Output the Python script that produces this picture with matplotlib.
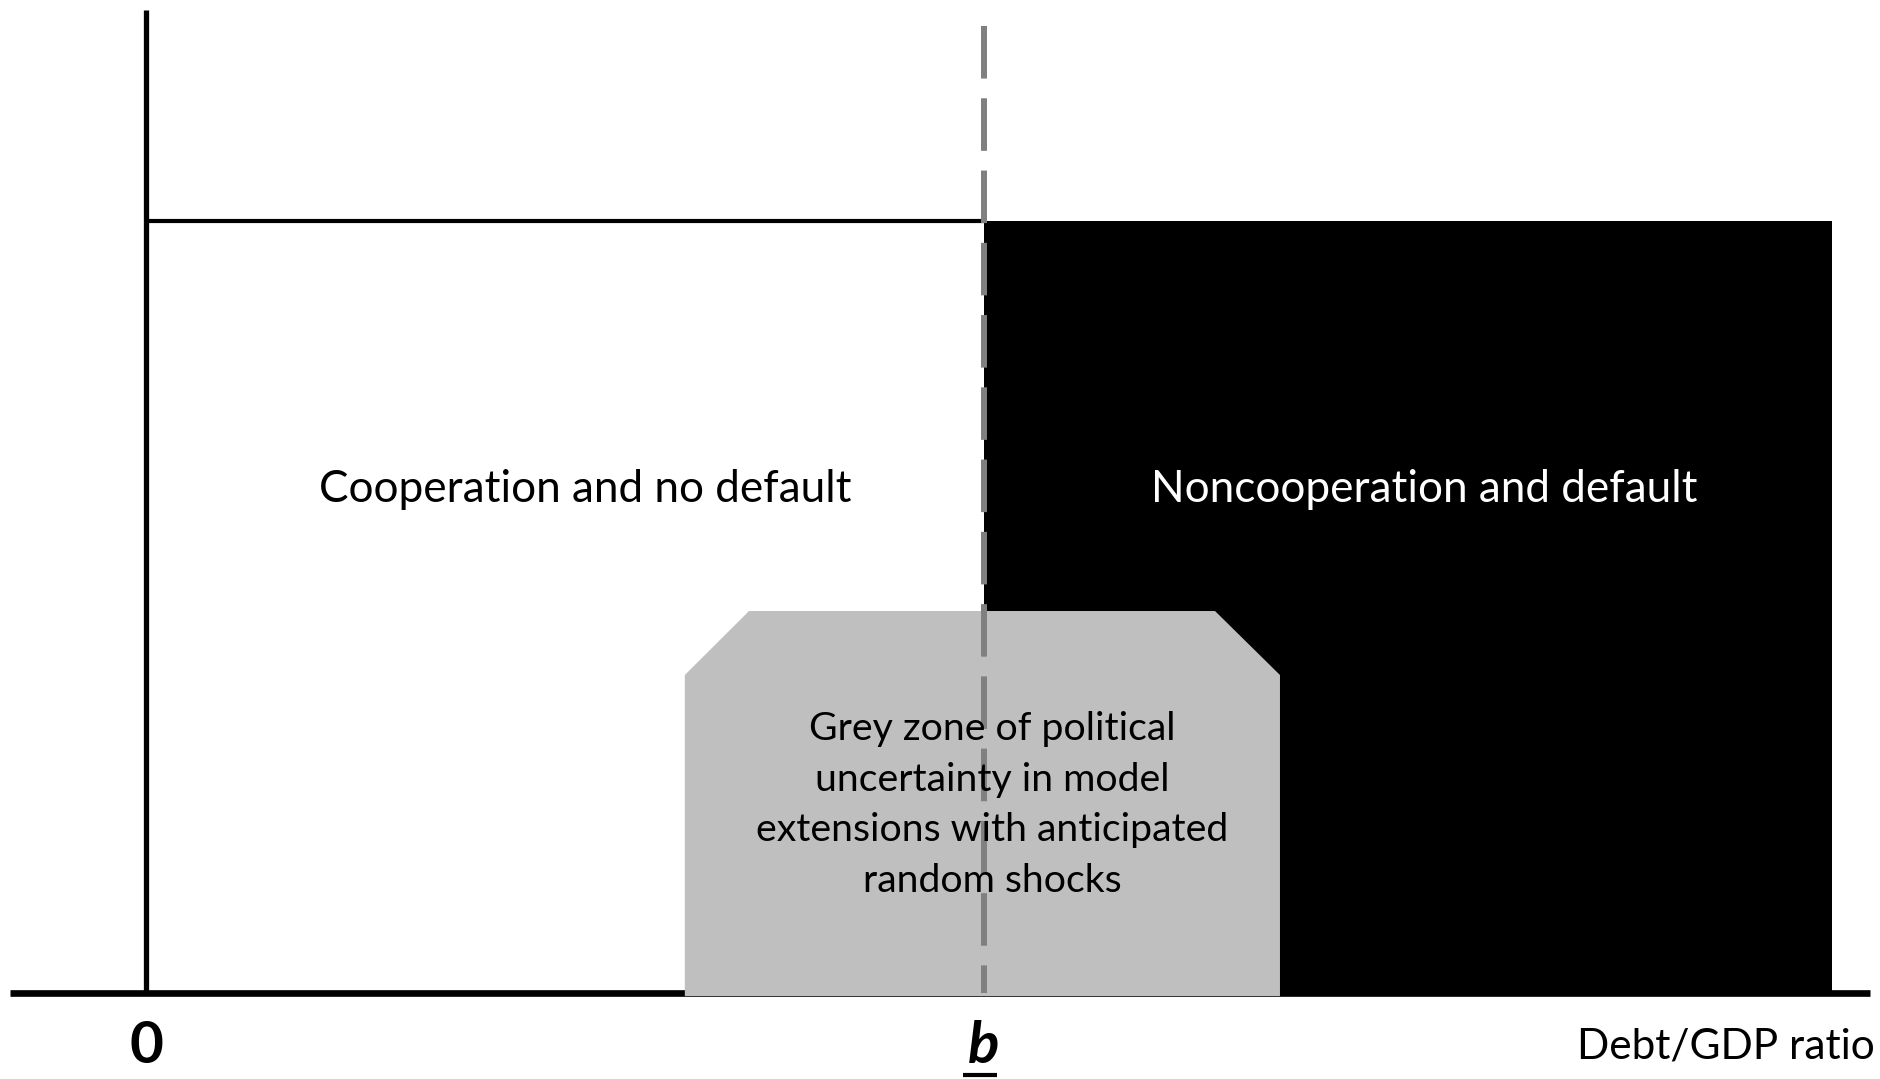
import matplotlib.pyplot as plt
from matplotlib.patches import Polygon, Rectangle

# === Schematic values (x: debt/GDP with threshold b = 1, y: outcome level) ===
b_threshold = 1.0
x_limits = (-0.1742, 2.0704)
y_limits = (-0.1114, 1.2863)
x_axis_span = (-0.1623, 2.0573)
y_axis_top = 1.273
regime_level = 1.0
default_right = 2.012
dash_top = 1.2526

# grey zone outline (x, y)
grey_x = [0.643, 0.643, 0.7196, 1.2757, 1.3532, 1.3532]
grey_y = [-0.004, 0.4119, 0.4948, 0.4948, 0.4119, -0.004]

label_coop = 'Cooperation and no default'
label_noncoop = 'Noncooperation and default'
label_grey = 'Grey zone of political\nuncertainty in model\nextensions with anticipated\nrandom shocks'
label_xaxis = 'Debt/GDP ratio'

coop_pos = (0.524, 0.652)
noncoop_pos = (1.525, 0.652)
grey_pos = (1.0095, 0.2435)
tick_y = -0.069

plt.rcParams['font.family'] = ['Lato', 'DejaVu Sans']

fig = plt.figure(figsize=(18.81, 10.79), dpi=100)
ax = fig.add_axes([0, 0, 1, 1])
ax.set_xlim(*x_limits)
ax.set_ylim(*y_limits)
ax.axis('off')

# axes
ax.plot(x_axis_span, [0, 0], color='black', lw=4.8, solid_capstyle='butt', zorder=1)
ax.plot([0, 0], [0, y_axis_top], color='black', lw=3.8, solid_capstyle='butt', zorder=1)

# cooperation region top and default region
ax.plot([0, b_threshold], [regime_level, regime_level], color='black', lw=3.0,
        solid_capstyle='butt', zorder=2)
ax.add_patch(Rectangle((b_threshold, 0), default_right - b_threshold, regime_level,
                       facecolor='black', edgecolor='none', zorder=2))

# grey zone
ax.add_patch(Polygon(list(zip(grey_x, grey_y)), closed=True, facecolor='#bfbfbf',
                     edgecolor='none', zorder=3))

# threshold b
ax.plot([b_threshold, b_threshold], [dash_top, 0], color='#808080', lw=4.3,
        linestyle=(0, (8.8, 3.3)), zorder=4)

# texts
ax.text(*coop_pos, label_coop, fontsize=31.8, ha='center', va='center', color='black')
ax.text(*noncoop_pos, label_noncoop, fontsize=31.8, ha='center', va='center', color='white')
ax.text(*grey_pos, label_grey, fontsize=28.3, ha='center', va='center', color='black',
        linespacing=1.5, zorder=5)

ax.text(0, tick_y, '0', fontsize=42, fontweight='bold', ha='center', va='center')
ax.text(b_threshold, tick_y, 'b', fontsize=42, fontweight='bold', fontstyle='italic',
        ha='center', va='center')
ax.plot([b_threshold - 0.025, b_threshold + 0.016], [-0.1065, -0.1065], color='black',
        lw=3, solid_capstyle='butt')
ax.text(x_axis_span[1] + 0.006, tick_y, label_xaxis, fontsize=30.5, ha='right', va='center')

fig.savefig('out.png', dpi=100)
